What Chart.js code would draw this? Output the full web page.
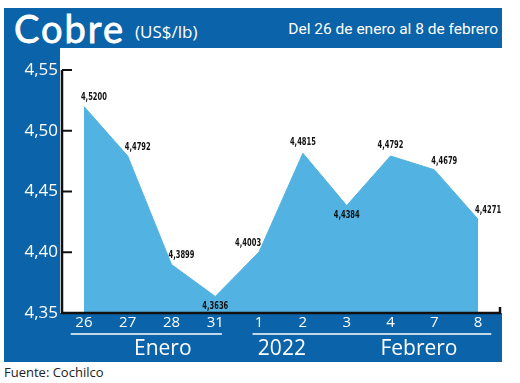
<!DOCTYPE html>
<html>
<head>
<meta charset="utf-8">
<script src="https://cdn.jsdelivr.net/npm/chart.js@4"></script>
<style>
  html, body { margin: 0; padding: 0; background: #fff; }
  body { width: 520px; height: 383px; position: relative; overflow: hidden; font-family: "Open Sans", sans-serif; }
  #frame { position: absolute; left: 4px; top: 8px; width: 498px; height: 354px; background: #0b63a9; }
  #plotbg { position: absolute; left: 60px; top: 48px; width: 442px; height: 265px; background: #fff; }
  #title { position: absolute; left: 14px; top: 5px; color: #fff; font-family: "Lato", sans-serif; font-size: 38px; font-weight: 400; letter-spacing: 2px; -webkit-text-stroke: 0.8px #fff; }
  #unit { position: absolute; left: 135px; top: 20px; color: #fff; font-size: 17px; }
  #period { position: absolute; right: 22px; top: 20px; color: #fff; font-family: "Roboto", sans-serif; font-size: 15.5px; }
  #wrap { position: absolute; left: 4px; top: 48px; width: 498px; height: 314px; }
  #source { position: absolute; left: 4px; top: 363px; color: #222; font-size: 13px; }
</style>
</head>
<body>
<div id="frame"></div>
<div id="plotbg"></div>
<div id="title">Cobre</div>
<div id="unit">(US$/lb)</div>
<div id="period">Del 26 de enero al 8 de febrero</div>
<div id="wrap"><canvas id="chart"></canvas></div>
<div id="source">Fuente: Cochilco</div>
<script>
const days = ["26", "27", "28", "31", "1", "2", "3", "4", "7", "8"];
const prices = [4.5200, 4.4792, 4.3899, 4.3636, 4.4003, 4.4815, 4.4384, 4.4792, 4.4679, 4.4271];
const yTicks = [4.35, 4.40, 4.45, 4.50, 4.55];
// group labels under the day ticks: [text, position in category units]
const groups = [["Enero", 1.8], ["2022", 4.52], ["Febrero", 7.65]];
const underlines = [[-0.3, 3.15], [3.85, 9.3]];

const comma = (v, d) => v.toFixed(d).replace(".", ",");

// where each value label sits relative to its point
const labelAt = ["ur", "ur", "ur", "b", "ul", "u", "b", "u", "ur", "ur"];

const overlay = {
  id: "overlay",
  afterDatasetsDraw(chart) {
    const { ctx, scales: { x, y } } = chart;
    const left = x.left, bottom = y.getPixelForValue(4.35);
    ctx.save();
    // axes
    ctx.strokeStyle = "#111";
    ctx.lineWidth = 2.5;
    ctx.beginPath();
    ctx.moveTo(left, y.getPixelForValue(4.55));
    ctx.lineTo(left, bottom);
    ctx.lineTo(x.right, bottom);
    ctx.lineTo(x.right, bottom - 6);
    ctx.stroke();
    ctx.lineWidth = 2;
    yTicks.forEach((t) => {
      const py = y.getPixelForValue(t);
      ctx.beginPath();
      ctx.moveTo(left, py);
      ctx.lineTo(left + 10, py);
      ctx.stroke();
    });

    // value labels (narrow, like the print condensed face)
    ctx.fillStyle = "#111";
    ctx.font = "bold 11px 'DejaVu Sans Condensed', 'DejaVu Sans', sans-serif";
    ctx.textBaseline = "middle";
    prices.forEach((v, i) => {
      const px = x.getPixelForValue(i), py = y.getPixelForValue(v);
      const s = comma(v, 4);
      const k = 26 / ctx.measureText(s).width;
      const w = 26;
      let tx, ty;
      switch (labelAt[i]) {
        case "ur": tx = px - 3; ty = py - 9; break;
        case "ul": tx = px - w + 2; ty = py - 9; break;
        case "u": tx = px - w / 2; ty = py - 11; break;
        case "b": tx = px - w / 2; ty = py + 10; break;
      }
      ctx.save();
      ctx.translate(tx, ty);
      ctx.scale(k, 1);
      ctx.fillText(s, 0, 0);
      ctx.restore();
    });

    // month / year groups
    ctx.strokeStyle = "#fff";
    ctx.lineWidth = 1.5;
    const uy = bottom + 21;
    underlines.forEach(([a, b]) => {
      ctx.beginPath();
      ctx.moveTo(x.getPixelForValue(a), uy);
      ctx.lineTo(x.getPixelForValue(b), uy);
      ctx.stroke();
    });
    ctx.fillStyle = "#fff";
    ctx.font = "21px 'Open Sans', sans-serif";
    ctx.textAlign = "center";
    groups.forEach(([t, pos]) => {
      ctx.fillText(t, x.getPixelForValue(pos), bottom + 36);
    });
    ctx.restore();
  },
};

new Chart(document.getElementById("chart"), {
  type: "line",
  data: {
    labels: days,
    datasets: [{
      data: prices,
      fill: "start",
      backgroundColor: "#52b2e2",
      borderColor: "#52b2e2",
      borderWidth: 1,
      pointRadius: 0,
      tension: 0,
    }],
  },
  options: {
    animation: false,
    responsive: true,
    maintainAspectRatio: false,
    layout: { padding: { top: 22, right: 2, left: 0, bottom: 0 } },
    plugins: { legend: { display: false }, tooltip: { enabled: false } },
    scales: {
      x: {
        offset: true,
        grid: { display: false, drawTicks: false },
        border: { display: false },
        ticks: { color: "#fff", font: { family: "Open Sans", size: 15 }, padding: 1, maxRotation: 0, autoSkip: false },
        afterFit: (s) => { s.height = 49; },
      },
      y: {
        min: 4.35,
        max: 4.55,
        afterBuildTicks: (s) => { s.ticks = yTicks.map((v) => ({ value: v })); },
        grid: { display: false, drawTicks: false },
        border: { display: false },
        ticks: { color: "#fff", font: { family: "Open Sans", size: 17 }, padding: 4, callback: (v) => comma(v, 2) },
        afterFit: (s) => { s.width = 58; },
      },
    },
  },
  plugins: [overlay],
});
</script>
</body>
</html>
